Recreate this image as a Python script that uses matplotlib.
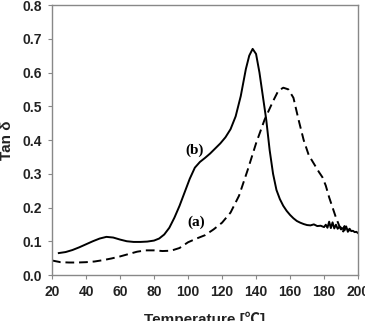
import matplotlib
matplotlib.use("Agg")
import matplotlib.pyplot as plt
import numpy as np

# curve (b) solid
temp_b = [24, 28, 32, 36, 40, 44, 48, 52, 56, 60, 64, 68, 72, 76, 80, 83, 86, 89, 92, 95,
          98, 101, 104, 107, 110, 113, 116, 119, 122, 125, 128, 131, 134, 136, 138, 140,
          142, 144, 146, 148, 150, 152, 154, 156, 158, 160, 162, 164, 166, 168, 170,
          172, 174, 176, 178, 180, 181, 182, 183, 184, 185, 186, 187, 188, 189, 190,
          191, 192, 193, 194, 195, 196, 197, 198, 199, 200]
tan_b = [0.065, 0.068, 0.074, 0.082, 0.091, 0.100, 0.108, 0.113, 0.111, 0.105, 0.100, 0.098,
         0.098, 0.099, 0.102, 0.108, 0.120, 0.140, 0.170, 0.205,
         0.245, 0.285, 0.318, 0.335, 0.347, 0.360, 0.375, 0.390, 0.408, 0.432, 0.470, 0.530,
         0.610, 0.650, 0.670, 0.655,
         0.600, 0.530, 0.460, 0.370, 0.300, 0.252, 0.225, 0.205, 0.190, 0.178, 0.168, 0.160,
         0.155, 0.151, 0.148,
         0.147, 0.150, 0.145, 0.146, 0.142, 0.149, 0.140, 0.158, 0.139, 0.156, 0.138, 0.149,
         0.137, 0.143, 0.135, 0.139, 0.132, 0.144, 0.128, 0.137, 0.130, 0.131, 0.127, 0.128, 0.124]

# curve (a) dashed
temp_a = [20, 25, 30, 35, 40, 45, 50, 55, 60, 65, 70, 75, 80, 85, 90, 95, 100, 105, 110,
          115, 120, 125, 130, 135, 140, 145, 150, 153, 156, 159, 162, 165, 168, 171, 174,
          177, 179, 181, 183, 185, 187, 189, 190, 191, 192, 193, 194, 195]
tan_a = [0.043, 0.038, 0.037, 0.037, 0.038, 0.040, 0.044, 0.049, 0.055, 0.062, 0.069, 0.073,
         0.073, 0.071, 0.072, 0.080, 0.097, 0.108, 0.118, 0.135, 0.155, 0.185, 0.235, 0.310,
         0.390, 0.460, 0.515, 0.545, 0.555, 0.550, 0.525, 0.460, 0.400, 0.355, 0.330,
         0.305, 0.290, 0.265, 0.230, 0.200, 0.170, 0.145, 0.140, 0.125, 0.145, 0.130, 0.135, 0.130]

xticks = [20, 40, 60, 80, 100, 120, 140, 160, 180, 200]
yticks = [0.0, 0.1, 0.2, 0.3, 0.4, 0.5, 0.6, 0.7, 0.8]

fig = plt.figure(figsize=(3.65, 3.21), dpi=100)
ax = fig.add_axes([0.1425, 0.1433, 0.8385, 0.8411])

ax.plot(temp_b, tan_b, color="black", lw=1.4)
ax.plot(temp_a, tan_a, color="black", lw=1.4, ls=(0, (4.5, 2.5)))

ax.set_xlim(20, 200)
ax.set_ylim(0, 0.8)
ax.set_xticks(xticks)
ax.set_yticks(yticks)
ax.set_xticklabels([str(t) for t in xticks])
ax.set_yticklabels([f"{t:.1f}" for t in yticks])

for s in ax.spines.values():
    s.set_color("#888888")
    s.set_linewidth(1.0)
ax.tick_params(axis="both", direction="out", length=3, color="#888888",
               labelsize=10, pad=4)
for lab in ax.get_xticklabels() + ax.get_yticklabels():
    lab.set_fontweight("bold")
    lab.set_fontfamily("Liberation Sans")
    lab.set_color("#222222")

ax.set_xlabel("Temperature [℃]", fontsize=11, fontweight="bold",
              family=["Liberation Sans", "Noto Sans CJK SC", "DejaVu Sans"], labelpad=9, color="#222222")
ax.set_ylabel("Tan δ", fontsize=11, fontweight="bold", family="Liberation Sans", labelpad=6, color="#222222")

ax.text(104, 0.37, "(b)", fontsize=11, fontweight="bold", family="Liberation Serif",
        ha="center", va="center")
ax.text(105, 0.157, "(a)", fontsize=11, fontweight="bold", family="Liberation Serif",
        ha="center", va="center")

fig.savefig("out.png", dpi=100)
